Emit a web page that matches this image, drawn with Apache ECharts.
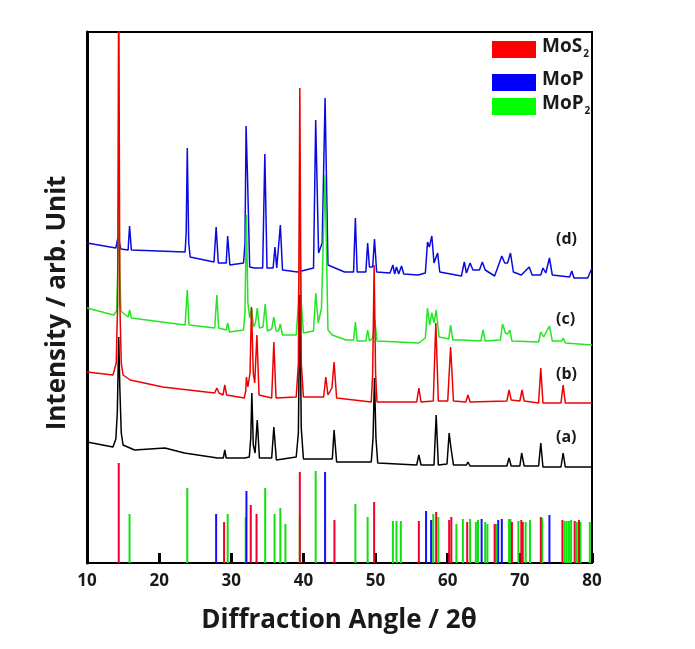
<!DOCTYPE html>
<html><head><meta charset="utf-8">
<script src="https://cdn.jsdelivr.net/npm/echarts@6/dist/echarts.min.js"></script>
<style>html,body{margin:0;padding:0;background:#fff}#c{width:695px;height:649px}</style>
</head><body><div id="c"></div>
<script>
// ---- data (2theta, intensity in arbitrary units) ----
const xTicks = [10, 20, 30, 40, 50, 60, 70, 80];
const seriesNames = ['(a)', '(b)', '(c)', '(d)'];
const traceA = [[10,121],[13.6,116],[14.0,124],[14.2,150],[14.4,226],[14.55,175],[14.75,130],[15.0,118],[16.6,113],[20.8,115],[23.5,110],[28.1,105],[28.9,105],[29.1,113],[29.3,105],[31.9,105],[32.5,106],[32.7,125],[32.85,170],[33.05,118],[33.3,110],[33.6,143],[33.9,105],[35.6,105],[35.9,136],[36.25,103],[39.0,106],[39.3,130],[39.5,268],[39.7,135],[40.0,104],[43.0,104],[44.0,104],[44.25,133],[44.6,101],[49.4,101],[49.65,125],[49.85,185],[50.05,125],[50.3,100],[55.7,98],[56.0,108],[56.3,98],[58.1,98],[58.4,148],[58.7,98],[59.9,99],[60.2,130],[60.45,115],[60.8,98],[62.6,98],[62.8,101],[63.1,97],[68.2,97],[68.5,105],[68.8,97],[70.0,97],[70.25,110],[70.6,97],[72.6,97],[72.9,120],[73.2,96],[75.7,96],[76.0,110],[76.3,96],[80,96]];
const traceB = [[10,191],[13.6,188],[14.05,200],[14.25,260],[14.4,600],[14.55,260],[14.75,200],[15.0,188],[16.0,183],[20.5,176],[27.7,170],[28.0,175],[28.3,170],[28.85,168],[29.1,178],[29.35,168],[31.8,165],[32.0,172],[32.1,186],[32.3,176],[32.6,190],[32.8,256],[33.05,190],[33.25,180],[33.55,228],[33.85,168],[35.6,165],[35.9,221],[36.2,165],[39.0,166],[39.3,200],[39.5,475],[39.7,200],[40.0,166],[42.8,166],[43.1,186],[43.4,168],[43.95,175],[44.25,201],[44.6,165],[49.4,161],[49.6,190],[49.8,298],[50.0,190],[50.2,161],[55.7,161],[56.0,175],[56.3,161],[58.0,162],[58.35,240],[58.7,162],[60.0,162],[60.4,216],[60.8,162],[62.5,161],[62.8,168],[63.1,161],[68.2,162],[68.5,173],[68.8,163],[70.0,162],[70.3,173],[70.6,162],[72.6,160],[72.9,195],[73.2,160],[75.7,160],[76.0,178],[76.3,160],[80,160]];
const traceC = [[10,255],[13.7,248],[14.1,252],[14.25,290],[14.4,373],[14.55,290],[14.7,252],[15.0,250],[15.7,246],[15.9,253],[16.15,245],[23.6,238],[23.9,273],[24.15,238],[27.7,235],[28.0,268],[28.25,235],[29.3,233],[29.5,240],[29.75,231],[31.7,233],[31.9,250],[32.1,348],[32.3,260],[32.55,245],[32.8,255],[33.1,236],[33.35,240],[33.6,255],[33.9,235],[34.4,236],[34.7,259],[35.0,232],[35.6,234],[35.9,246],[36.2,232],[36.55,232],[36.8,239],[37.1,228],[39.0,228],[39.3,260],[39.5,333],[39.7,260],[40.0,230],[41.4,232],[41.7,270],[42.05,240],[42.5,255],[43.0,388],[43.4,233],[44.0,228],[45.9,223],[46.95,223],[47.2,241],[47.45,222],[48.65,222],[48.9,233],[49.15,222],[49.6,225],[49.9,243],[50.2,222],[56.0,220],[56.9,225],[57.2,255],[57.5,238],[57.8,250],[58.1,240],[58.4,253],[58.8,226],[60.15,224],[60.4,238],[60.7,223],[61.9,223],[64.6,222],[64.9,233],[65.2,222],[67.3,223],[67.6,239],[68.0,230],[68.3,229],[68.6,233],[68.9,222],[72.6,221],[72.9,231],[73.3,226],[74.1,237],[74.5,222],[75.8,222],[76.0,225],[76.3,220],[80,218]];
const traceD = [[10,320],[14.0,315],[14.3,326],[14.7,314],[15.7,313],[15.9,337],[16.15,313],[23.6,311],[23.75,330],[23.9,415],[24.1,320],[24.3,306],[27.6,301],[27.9,336],[28.2,300],[29.3,300],[29.5,327],[29.8,298],[31.7,300],[31.9,320],[32.05,437],[32.25,386],[32.55,296],[33.2,295],[34.35,295],[34.65,409],[34.95,295],[35.8,295],[36.05,316],[36.3,295],[36.55,295],[36.8,338],[37.1,293],[39.2,291],[41.4,295],[41.7,443],[42.1,310],[42.6,320],[43.0,465],[43.4,298],[45.7,291],[46.95,291],[47.2,345],[47.45,291],[48.65,291],[48.9,320],[49.15,296],[49.6,296],[49.85,324],[50.15,291],[52.0,290],[52.4,298],[52.65,289],[52.9,296],[53.2,289],[53.6,297],[53.9,289],[55.9,288],[56.9,290],[57.2,321],[57.45,316],[57.8,327],[58.1,300],[58.6,310],[58.9,291],[61.9,287],[62.3,301],[62.6,290],[63.1,300],[63.5,293],[64.4,293],[64.8,301],[65.2,293],[66.5,287],[67.5,307],[67.9,300],[68.3,300],[68.7,310],[69.1,291],[70.2,288],[71.3,296],[71.7,288],[72.9,288],[73.2,295],[73.6,290],[74.1,305],[74.5,288],[76.9,286],[77.2,292],[77.5,285],[79.4,285],[80,295]];
// reference patterns
const refNames = ['MoS2', 'MoP', 'MoP2'];
const mos2Pos = [14.4, 29.0, 32.7, 33.5, 39.5, 44.3, 49.8, 56.0, 58.4, 60.2, 60.5, 62.7, 66.5, 68.9, 70.2, 70.4, 72.9, 75.9, 77.6, 78.2];
const mos2H   = [100, 41, 58, 49, 91, 43, 61, 42, 51, 43, 46, 41, 39, 41, 43, 41, 46, 43, 42, 43];
const mopPos  = [27.9, 32.1, 43.0, 57.0, 57.7, 64.7, 67.0, 67.5, 74.1];
const mopH    = [49, 72, 91, 52, 43, 44, 43, 44, 48];
const mop2Pos = [15.9, 23.9, 29.5, 32.0, 34.7, 36.0, 36.8, 37.5, 39.5, 41.7, 47.2, 48.9, 52.4, 52.9, 53.5, 58.0, 58.7, 61.2, 62.1, 63.1, 63.9, 64.2, 65.2, 65.5, 66.7, 68.5, 68.7, 69.8, 70.8, 71.4, 73.1, 76.2, 76.5, 76.8, 77.1, 77.9, 78.4, 79.7];
const mop2H   = [49, 75, 49, 46, 75, 49, 55, 39, 48, 92, 59, 46, 42, 42, 42, 49, 46, 39, 44, 44, 41, 43, 41, 39, 39, 44, 44, 42, 41, 43, 45, 42, 42, 42, 43, 41, 41, 41];

const zip = (p, h) => p.map((x, i) => [x, h[i]]);
const chart = echarts.init(document.getElementById('c'));
const bold = 'bold';
const ff = '"Open Sans", "Noto Sans", sans-serif';
const txt = '#1a1a1a';
function stick(name, data, color) {
  return { name, type: 'bar', data, barWidth: 2, barGap: '-100%', itemStyle: { color }, silent: true, z: 2 };
}
function trace(name, data, color) {
  return { name, type: 'line', data, symbol: 'none', smooth: false, clip: true,
    lineStyle: { color, width: 1.5 }, silent: true, z: 3 };
}
chart.setOption({
  animation: false,
  grid: { left: 87, right: 103, top: 32, bottom: 86, show: true, borderColor: '#000', borderWidth: 2 },
  xAxis: { type: 'value', min: 10, max: 80, interval: 10,
    axisLine: { lineStyle: { color: '#000', width: 2 } },
    axisTick: { inside: true, length: 10, lineStyle: { color: '#000', width: 3 } },
    axisLabel: { color: txt, fontSize: 17, fontWeight: bold, fontFamily: ff, margin: 10,
      formatter: v => xTicks.includes(v) ? String(v) : '' },
    splitLine: { show: false } },
  yAxis: { type: 'value', min: 0, max: 531, show: true,
    axisLine: { show: true, lineStyle: { color: '#000', width: 3 } },
    axisTick: { show: false }, axisLabel: { show: false }, splitLine: { show: false } },
  series: [
    stick(refNames[2], zip(mop2Pos, mop2H), '#10e010'),
    stick(refNames[1], zip(mopPos, mopH), '#1010ff'),
    stick(refNames[0], zip(mos2Pos, mos2H), '#f0002a'),
    trace(seriesNames[3], traceD, '#0a0ae0'),
    trace(seriesNames[2], traceC, '#22e622'),
    trace(seriesNames[0], traceA, '#000000'),
    trace(seriesNames[1], traceB, '#ee0000')
  ],
  graphic: [
    { type: 'rect', shape: { x: 492, y: 41, width: 44, height: 17 }, style: { fill: '#ff0000' } },
    { type: 'rect', shape: { x: 492, y: 74, width: 44, height: 17 }, style: { fill: '#0000ff' } },
    { type: 'rect', shape: { x: 492, y: 98, width: 44, height: 17 }, style: { fill: '#00ff00' } },
    { type: 'text', left: 542, top: 37, style: { text: '{m|MoS}{s|2}', rich: { m: { fontSize: 19, fontWeight: bold, fontFamily: ff, fill: txt }, s: { fontSize: 10, fontWeight: bold, fontFamily: ff, fill: txt, padding: [15, 0, 0, 1] } } } },
    { type: 'text', left: 542, top: 70, style: { text: 'MoP', fontSize: 19, fontWeight: bold, fontFamily: ff, fill: txt } },
    { type: 'text', left: 542, top: 94, style: { text: '{m|MoP}{s|2}', rich: { m: { fontSize: 19, fontWeight: bold, fontFamily: ff, fill: txt }, s: { fontSize: 10, fontWeight: bold, fontFamily: ff, fill: txt, padding: [15, 0, 0, 1] } } } },
    { type: 'text', left: 556, top: 231, style: { text: seriesNames[3], fontSize: 16, fontWeight: bold, fontFamily: ff, fill: txt } },
    { type: 'text', left: 556, top: 311, style: { text: seriesNames[2], fontSize: 16, fontWeight: bold, fontFamily: ff, fill: txt } },
    { type: 'text', left: 556, top: 366, style: { text: seriesNames[1], fontSize: 16, fontWeight: bold, fontFamily: ff, fill: txt } },
    { type: 'text', left: 556, top: 429, style: { text: seriesNames[0], fontSize: 16, fontWeight: bold, fontFamily: ff, fill: txt } },
    { type: 'text', x: 339, y: 621, style: { text: 'Diffraction Angle / 2θ', fontSize: 26, fontWeight: bold, fontFamily: ff, fill: txt, align: 'center', verticalAlign: 'middle' } },
    { type: 'text', x: 58, y: 303, rotation: Math.PI / 2, style: { text: 'Intensity / arb. Unit', fontSize: 26, fontWeight: bold, fontFamily: ff, fill: txt, align: 'center', verticalAlign: 'middle' } }
  ]
});
</script></body></html>
